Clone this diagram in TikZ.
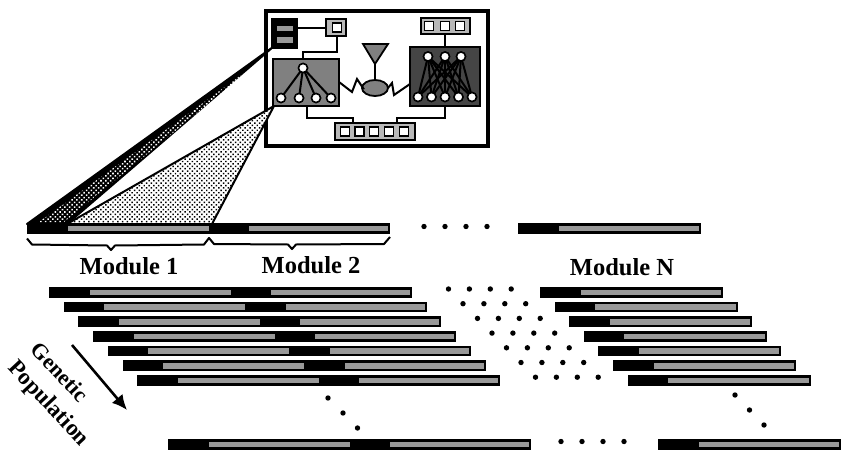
\documentclass[tikz,border=0pt]{standalone}
\usepackage{fontspec}
\setmainfont{Liberation Serif}
\usetikzlibrary{arrows.meta,patterns.meta,shapes.geometric}
\definecolor{bargray}{gray}{0.60}
\definecolor{boxgray}{gray}{0.50}
\definecolor{darkgray2}{gray}{0.27}
\definecolor{lightrim}{gray}{0.72}
\tikzset{
  wire/.style={line width=2pt,black},
  thickwire/.style={line width=2pt,black},
  blk/.style={fill=black,draw=none},
  greybar/.style={fill=bargray,draw=none},
  neuron/.style={circle,draw=black,fill=white,line width=1.5pt,minimum size=9pt,inner sep=0pt,outer sep=0pt},
  cell/.style={rectangle,draw=black,fill=white,line width=1.9pt,minimum size=9pt,inner sep=0pt,outer sep=0pt},
  blockbox/.style={rectangle,draw=black,line width=2.2pt,inner sep=0pt,outer sep=0pt},
  dotmark/.style={circle,fill=black,minimum size=5.4pt,inner sep=0pt,outer sep=0pt},
  label/.style={font=\fontsize{24.5}{26}\selectfont\bfseries,inner sep=0pt},
  sidelabel/.style={font=\fontsize{23}{25}\selectfont\bfseries,inner sep=0pt},
}
% block node: name, x1, y1, x2, y2, style
\newcommand{\blocknode}[6]{%
  \pgfmathsetmacro{\bw}{#4-#2}\pgfmathsetmacro{\bh}{#5-#3}%
  \node[blockbox,minimum width=\bw pt,minimum height=\bh pt,#6] (#1) at ({(#2+#4)/2},{(#3+#5)/2}) {};}
\newcommand{\onemod}[2]{%
  \fill[blk] (#1,#2) rectangle ++(183,10.8);
  \fill[greybar] ({#1+40.5},{#2+2.7}) rectangle ({#1+181},{#2+8.3});}
\newcommand{\twomod}[2]{%
  \fill[blk] (#1,#2) rectangle ++(363,10.8);
  \fill[greybar] ({#1+40.5},{#2+2.7}) rectangle ({#1+181.5},{#2+8.3});
  \fill[greybar] ({#1+222},{#2+2.7}) rectangle ({#1+361},{#2+8.3});}
\begin{document}
\begin{tikzpicture}[x=1pt,y=-1pt]
\useasboundingbox (0,0) rectangle (841,450);
% inset frame
\node[rectangle,draw=black,line width=3.4pt,inner sep=0pt,minimum width=222pt,minimum height=135pt] (frame) at (377,78.5) {};
% wedges
\filldraw[draw=black,line width=2pt,fill=black,line join=round] (27,224) -- (273,47) -- (67,224) -- cycle;
\begin{scope}
\clip (39,222) -- (262,60) -- (64,222) -- cycle;
\fill[pattern={Dots[distance=3.4pt,radius=1.1pt,angle=45]},pattern color=white] (0,40) rectangle (300,230);
\end{scope}
\filldraw[draw=black,line width=2pt,fill=white,line join=round] (67,224) -- (274,106) -- (212,224) -- cycle;
\fill[pattern={Dots[distance=3.4pt,radius=1.05pt,angle=45]},pattern color=black] (67,224) -- (274,106) -- (212,224) -- cycle;
% blocks
\blocknode{ctrl}{272}{19}{297}{48}{fill=black}
\blocknode{ctrlA}{277}{26}{293}{31}{fill=bargray,draw=none}
\blocknode{ctrlB}{277}{37}{293}{43}{fill=bargray,draw=none}
\blocknode{single}{326}{19}{346}{36}{fill=lightrim}
\node[cell] (singlein) at (337,27.5) {};
\blocknode{leftnet}{273}{59}{339}{106}{fill=boxgray}
\blocknode{rightnet}{410}{47}{480}{106}{fill=darkgray2}
\blocknode{topcells}{421}{18}{470}{34}{fill=lightrim}
\foreach \n/\x in {1/429,2/445,3/460} \node[cell] (tc\n) at (\x,26) {};
\blocknode{botcells}{335}{123}{415}{140}{fill=lightrim}
\foreach \n/\x in {1/345,2/359.5,3/374,4/389,5/404} \node[cell] (bc\n) at (\x,131.5) {};
% neurons
\node[neuron] (lt) at (303,68) {};
\foreach \n/\x in {1/281,2/299,3/316,4/331} \node[neuron] (lb\n) at (\x,98) {};
\foreach \n/\x in {1/428,2/445,3/461} \node[neuron] (rt\n) at (\x,56.5) {};
\foreach \n/\x in {1/418,2/431.5,3/445,4/458.5,5/472} \node[neuron] (rb\n) at (\x,97) {};
\foreach \n in {1,2,3,4} \draw[thickwire] (lt) -- (lb\n);
\foreach \a in {1,2,3} \foreach \b in {1,2,3,4,5} \draw[thickwire] (rt\a) -- (rb\b);
% redraw circles above their wires
\node[neuron] at (lt) {};
\foreach \n in {1,2,3,4} \node[neuron] at (lb\n) {};
\foreach \n in {1,2,3} \node[neuron] at (rt\n) {};
\foreach \n in {1,2,3,4,5} \node[neuron] at (rb\n) {};
% soma and dendrite parts
\node[ellipse,draw=black,fill=boxgray,line width=1.8pt,minimum width=26pt,minimum height=16pt,inner sep=0pt,outer sep=0pt] (soma) at (375,88) {};
\coordinate (tipT) at (375,64);
\filldraw[draw=black,fill=boxgray,line width=1.8pt,line join=miter] (363,44) -- (388,44) -- (tipT) -- cycle;
\draw[wire] (tipT) -- (soma.north);
% connectors
\draw[wire] (ctrl.east |- 0,28) -- (single.west |- 0,28);
\draw[wire] (singlein.south |- single.south) -- ++(0,15.5) -| (lt.north |- leftnet.north);
\draw[wire] (topcells.south -| tc2) -- (rightnet.north -| tc2);
\draw[wire] (leftnet.south -| 307,0) |- (353,118) -- (353,123);
\draw[wire] (rightnet.south -| 445,0) |- (397,118) -- (397,123);
\draw[wire] (leftnet.east |- 0,82) -- (352,92) -- (357,79) -- (363,88) -- (soma.west);
\draw[wire] (rightnet.west |- 0,84) -- (394,95) -- (392,83) -- (soma.east);
% top chromosome
\twomod{27}{223}
\onemod{518}{223}
% braces
\draw[wire,line join=round] (27,238.5) -- (32,244.5) -- (107,245.5) -- (111,250) -- (115,245.5) -- (204,244.5) -- (209,238) -- (214,244) -- (288,244.5) -- (292,249) -- (296,244.5) -- (384,244) -- (390,237);
% labels
\node[label] (m1) at (129,266.5) {Module 1};
\node[label] (m2) at (311,265) {Module 2};
\node[label] (mn) at (622,267) {Module N};
% population
\foreach \i in {0,...,6} {
  \pgfmathsetmacro{\yy}{287+14.65*\i}
  \pgfmathsetmacro{\la}{49+14.7*\i}
  \pgfmathsetmacro{\lb}{540+14.6*\i}
  \twomod{\la}{\yy}
  \onemod{\lb}{\yy}
  \foreach \d in {0,1,2,3} {
    \node[dotmark] at ({448.5+14.5*\i+20.9*\d},{289+14.7*\i}) {};
  }
}
\twomod{168}{439}
\onemod{658}{439}
% dots
\foreach \x in {424,445,466,487} \node[dotmark] at (\x,226.5) {};
\foreach \x in {561,582,603,624} \node[dotmark] at (\x,441.5) {};
\foreach \x/\y in {328/398,343/413,357.5/428,735/395,749.5/410,764/425} \node[dotmark] at (\x,\y) {};
% genetic population
\coordinate (arrA) at (72,345);
\coordinate (arrB) at (127,410);
\draw[line width=2.6pt,-{Latex[length=15pt,width=14pt]}] (arrA) -- (arrB);
\node[sidelabel,font=\fontsize{22}{24}\selectfont\bfseries,rotate=-47] (gen) at (60,372) {Genetic};
\node[sidelabel,rotate=-47] (pop) at (48,404) {Population};
\end{tikzpicture}
\end{document}
